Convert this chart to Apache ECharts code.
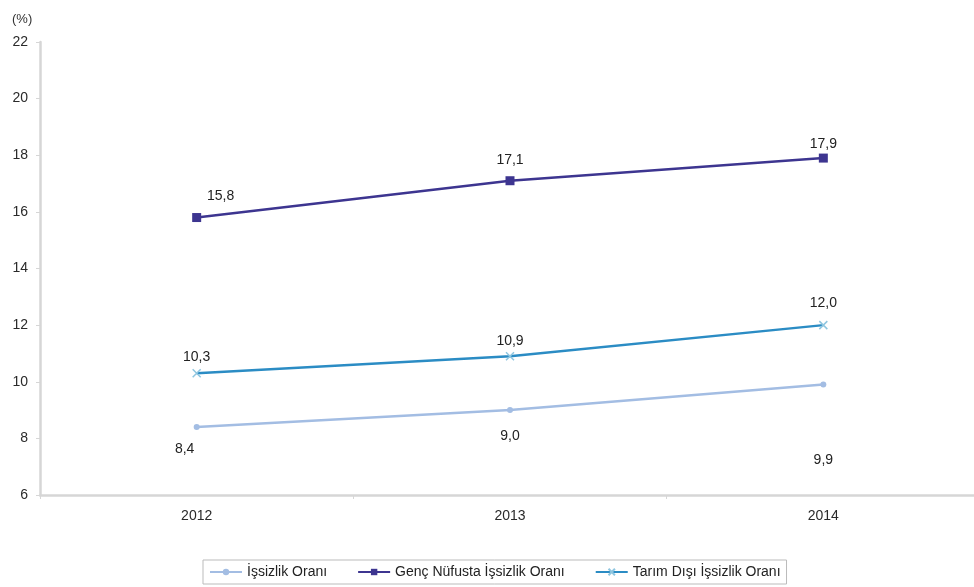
<!DOCTYPE html>
<html><head><meta charset="utf-8">
<script src="https://cdn.jsdelivr.net/npm/echarts@6/dist/echarts.min.js"></script>
<style>html,body{margin:0;padding:0;background:#fff}#c{width:974px;height:587px}</style>
</head><body><div id="c"></div>
<script>
const years = ['2012', '2013', '2014'];
const issizlik = [8.4, 9.0, 9.9];
const genc = [15.8, 17.1, 17.9];
const tarimDisi = [10.3, 10.9, 12.0];
const seriesNames = ['İşsizlik Oranı', 'Genç Nüfusta İşsizlik Oranı', 'Tarım Dışı İşsizlik Oranı'];
const yTicks = [6, 8, 10, 12, 14, 16, 18, 20, 22];

const font = 'Liberation Sans, Arial, sans-serif';
const fmt = p => p.value.toFixed(1).replace('.', ',');
const xPath = 'path://M0,0L10,10M10,0L0,10';

const chart = echarts.init(document.getElementById('c'));
chart.setOption({
  animation: false,
  backgroundColor: '#fff',
  textStyle: { fontFamily: font },
  title: { text: '(%)', left: 7, top: 8, textStyle: { fontSize: 13, fontWeight: 'normal', color: '#333', fontFamily: font } },
  grid: { left: 40, top: 42, width: 940, height: 453, outerBoundsMode: 'none', containLabel: false },
  xAxis: {
    type: 'category', data: years, boundaryGap: true,
    axisLine: { lineStyle: { color: '#d6d6d6', width: 2.5 } },
    axisTick: { show: true, alignWithLabel: false, length: 4, lineStyle: { color: '#d6d6d6' } },
    axisLabel: { color: '#2a2a2a', fontSize: 14, margin: 14, fontFamily: font }
  },
  yAxis: {
    type: 'value', min: yTicks[0], max: yTicks[yTicks.length - 1], interval: 2,
    axisLine: { show: true, lineStyle: { color: '#d6d6d6', width: 2.5 } },
    axisTick: { show: true, length: 4, lineStyle: { color: '#d6d6d6' } },
    splitLine: { show: false },
    axisLabel: { color: '#2a2a2a', fontSize: 14, margin: 12, fontFamily: font }
  },
  legend: {
    bottom: 3, left: 203, itemWidth: 32, itemHeight: 8, itemGap: 30,
    borderColor: '#bbb', borderWidth: 1, padding: [5, 6],
    textStyle: { fontSize: 14, color: '#222', fontFamily: font },
    data: seriesNames
  },
  series: [
    {
      name: seriesNames[0], type: 'line', data: issizlik,
      symbol: 'circle', symbolSize: 6,
      lineStyle: { color: '#a3bde3', width: 2.5 }, itemStyle: { color: '#a3bde3' },
      label: { show: true, formatter: fmt, fontSize: 14, color: '#222', fontFamily: font, position: 'bottom', distance: 12 },
      labelLayout: function (p) { return p.dataIndex === 0 ? { dx: -12, dy: 0 } : (p.dataIndex === 2 ? { dy: 54 } : { dy: 4 }); }
    },
    {
      name: seriesNames[1], type: 'line', data: genc,
      symbol: 'rect', symbolSize: 9,
      lineStyle: { color: '#3d3590', width: 2.5 }, itemStyle: { color: '#3d3590' },
      label: { show: true, formatter: fmt, fontSize: 14, color: '#222', fontFamily: font, position: 'top', distance: 10 },
      labelLayout: function (p) { return p.dataIndex === 0 ? { dx: 24 } : (p.dataIndex === 2 ? { dy: 8 } : {dy: 1}); }
    },
    {
      name: seriesNames[2], type: 'line', data: tarimDisi,
      symbol: xPath, symbolSize: 8,
      lineStyle: { color: '#2b8cc4', width: 2.5 }, itemStyle: { color: '#2b8cc4', borderColor: '#8fc6e0', borderWidth: 1.5 },
      label: { show: true, formatter: fmt, fontSize: 14, color: '#222', fontFamily: font, position: 'top', distance: 10 },
      labelLayout: function (p) { return p.dataIndex === 0 ? { dy: 6 } : (p.dataIndex === 1 ? { dy: 7 } : {}); }
    }
  ]
});
</script></body></html>
